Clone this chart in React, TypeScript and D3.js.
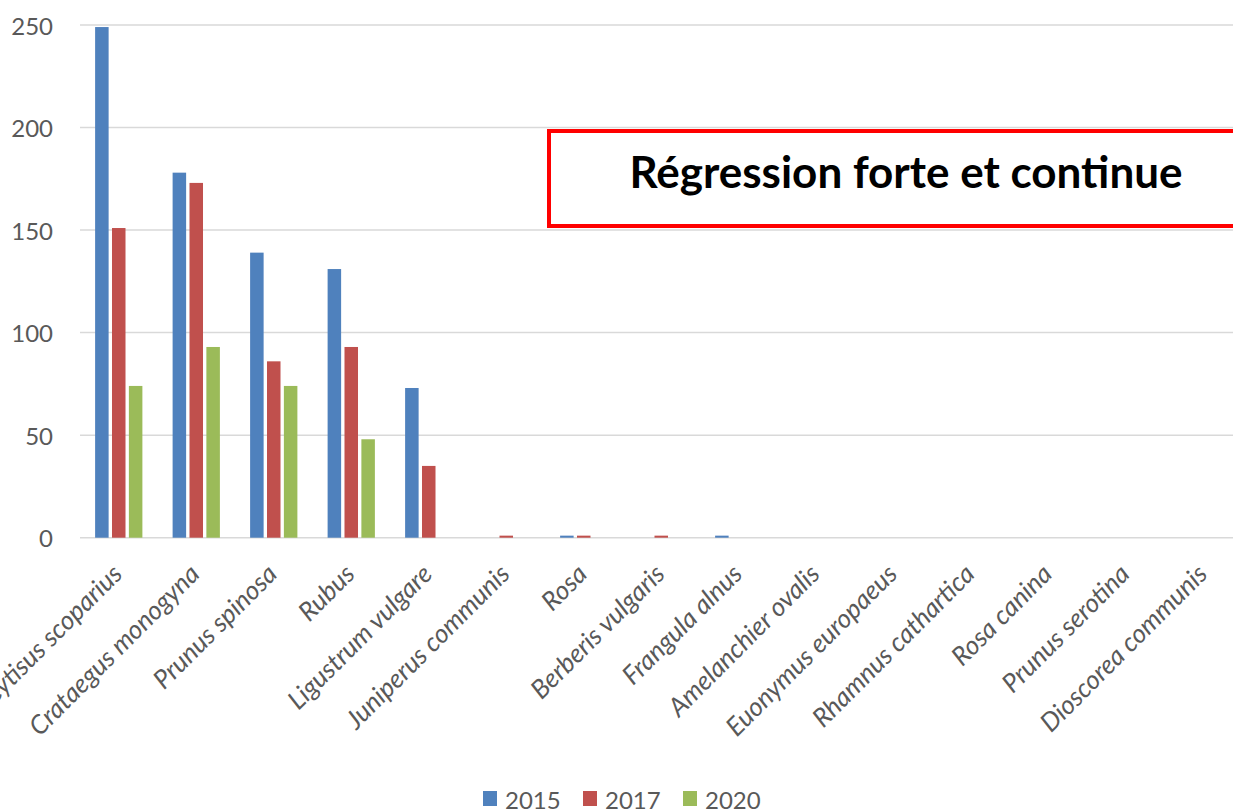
import React from "react";
import { scaleBand, scaleLinear } from "d3";

// espèces (axe des x)
const species = [
  "Cytisus scoparius",
  "Crataegus monogyna",
  "Prunus spinosa",
  "Rubus",
  "Ligustrum vulgare",
  "Juniperus communis",
  "Rosa",
  "Berberis vulgaris",
  "Frangula alnus",
  "Amelanchier ovalis",
  "Euonymus europaeus",
  "Rhamnus cathartica",
  "Rosa canina",
  "Prunus serotina",
  "Dioscorea communis",
];

const years = ["2015", "2017", "2020"];

const values2015 = [249, 178, 139, 131, 73, 0, 1, 0, 1, 0, 0, 0, 0, 0, 0];
const values2017 = [151, 173, 86, 93, 35, 1, 1, 1, 0, 0, 0, 0, 0, 0, 0];
const values2020 = [74, 93, 74, 48, 0, 0, 0, 0, 0, 0, 0, 0, 0, 0, 0];

const yTicks = [0, 50, 100, 150, 200, 250];

const colors = ["#4F81BD", "#C0504D", "#9BBB59"];

const W = 1233;
const H = 812;
const plotLeft = 80;
const plotRight = 1242.5;
const plotTop = 25;
const plotBottom = 537.7;

export default function App() {
  const series = [values2015, values2017, values2020];

  const x = scaleBand<string>()
    .domain(species)
    .range([plotLeft, plotRight])
    .paddingInner(0.39)
    .paddingOuter(0.195);

  const xSub = scaleBand<string>()
    .domain(years)
    .range([0, x.bandwidth()])
    .paddingInner(0.2);

  const y = scaleLinear().domain([0, 250]).range([plotBottom, plotTop]);

  const axisFont = "Lato, 'Open Sans', sans-serif";

  return (
    <svg
      width={W}
      height={H}
      style={{ position: "absolute", left: 0, top: 0, background: "#fff" }}
    >
      {/* grille */}
      {yTicks.map((t) => (
        <g key={t}>
          <line
            x1={plotLeft}
            x2={W}
            y1={y(t)}
            y2={y(t)}
            stroke="#d9d9d9"
            strokeWidth={1.5}
          />
          <text
            x={53}
            y={y(t)}
            textAnchor="end"
            dominantBaseline="central"
            fontFamily={axisFont}
            fontSize={24}
            fill="#595959"
          >
            {t}
          </text>
        </g>
      ))}

      {/* barres */}
      {species.map((s, i) => (
        <g key={s} transform={`translate(${x(s)},0)`}>
          {years.map((yr, k) => {
            const v = series[k][i];
            if (!v) return null;
            return (
              <rect
                key={yr}
                x={xSub(yr)}
                y={y(v)}
                width={xSub.bandwidth()}
                height={Math.max(plotBottom - y(v), 2)}
                fill={colors[k]}
              />
            );
          })}
        </g>
      ))}

      {/* étiquettes des espèces */}
      {species.map((s) => {
        const cx = (x(s) as number) + x.bandwidth() / 2;
        return (
          <text
            key={s}
            transform={`translate(${cx + 5},${plotBottom + 38}) rotate(-45)`}
            textAnchor="end"
            fontFamily={axisFont}
            fontStyle="italic"
            fontSize={26}
            fill="#595959"
          >
            {s}
          </text>
        );
      })}

      {/* légende */}
      {years.map((yr, k) => (
        <g key={yr} transform={`translate(${483 + k * 100},799)`}>
          <rect x={0} y={-8} width={14} height={15} fill={colors[k]} />
          <text
            x={22}
            y={0}
            dominantBaseline="central"
            fontFamily={axisFont}
            fontSize={24}
            fill="#595959"
          >
            {yr}
          </text>
        </g>
      ))}

      {/* encadré */}
      <rect
        x={549}
        y={131}
        width={W - 549 + 20}
        height={95}
        fill="#fff"
        stroke="#ff0000"
        strokeWidth={4}
      />
      <text
        x={906}
        y={188}
        textAnchor="middle"
        fontFamily={axisFont}
        fontWeight="bold"
        fontSize={44}
        fill="#000"
      >
        Régression forte et continue
      </text>
    </svg>
  );
}
